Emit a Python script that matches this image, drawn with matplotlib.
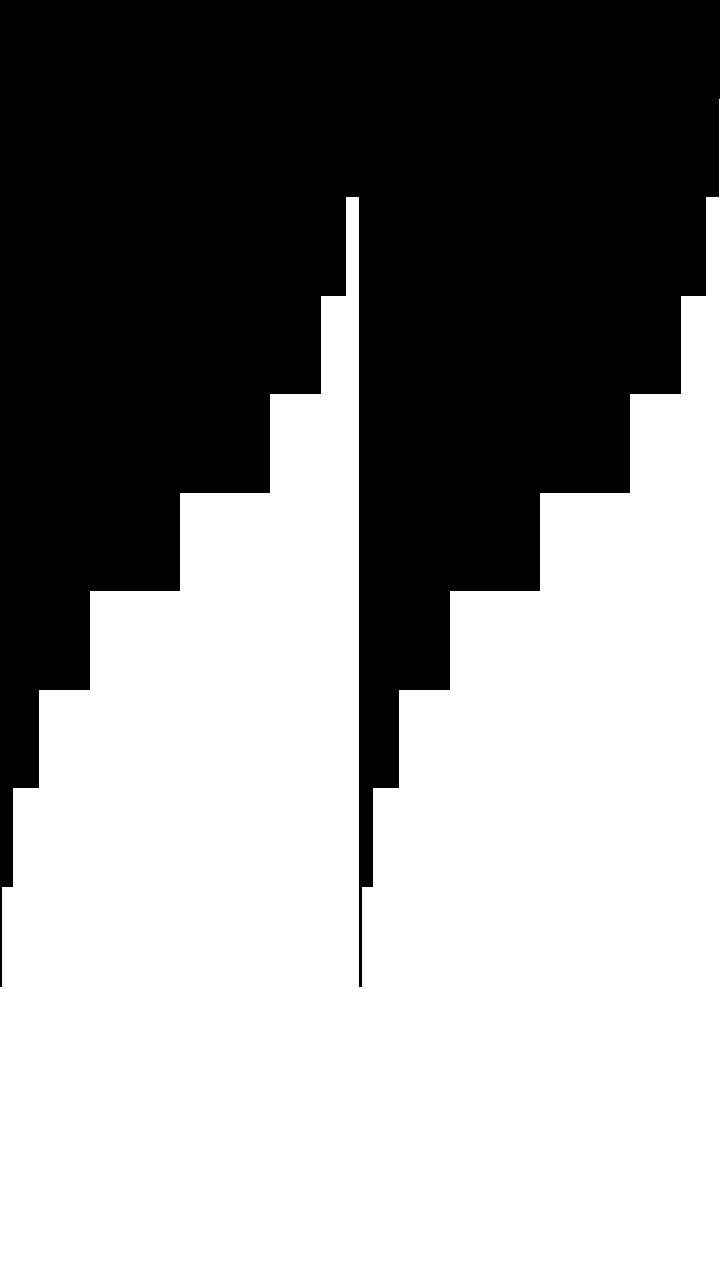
import numpy as np
import matplotlib
matplotlib.use("Agg")
import matplotlib.pyplot as plt

# row values (percent of full width), top row first
rows = ["r0", "r1", "r2", "r3", "r4", "r5", "r6", "r7", "r8", "r9"]
left_vals = [100.0, 99.6, 96.2, 89.2, 75.0, 50.0, 25.0, 10.8, 3.6, 0.5]
right_vals = [100.0, 99.6, 96.2, 89.2, 75.0, 50.0, 25.0, 10.8, 3.6, 0.5]

fig = plt.figure(figsize=(7.2, 12.8), dpi=100)
bottom = 1 - 985 / 1280

for i, vals in enumerate([left_vals, right_vals]):
  ax = fig.add_axes([0.5 * i, bottom, 0.5, 1 - bottom])
  y = np.arange(len(rows))
  ax.barh(y, vals, height=1.0, color="black", linewidth=0)
  ax.set_xlim(0, 100)
  ax.set_ylim(len(rows) - 0.5, -0.5)
  ax.set_xticks([])
  ax.set_yticks([])
  for side in ["top", "right", "bottom"]:
    ax.spines[side].set_visible(False)
  ax.spines["left"].set_linewidth(2.2)
  ax.spines["left"].set_color("black")
  ax.patch.set_alpha(0)

fig.savefig("out.png", dpi=100)
